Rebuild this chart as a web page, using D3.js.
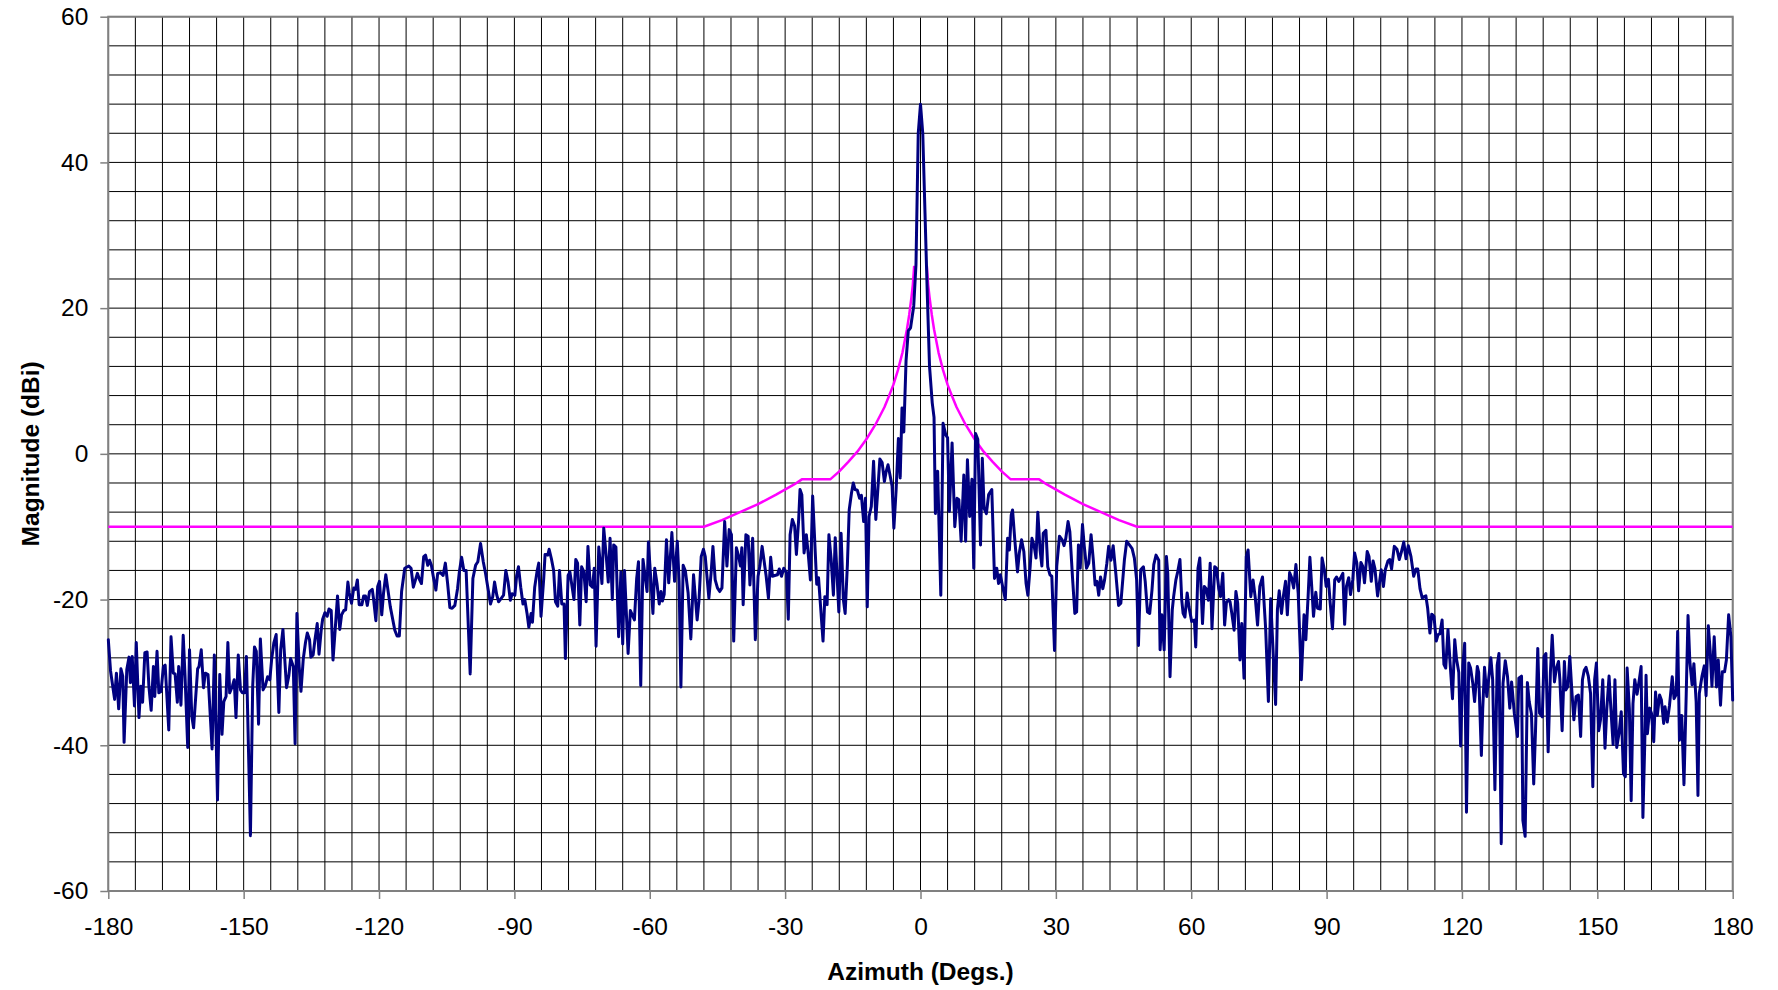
<!DOCTYPE html>
<html>
<head>
<meta charset="utf-8">
<script src="https://cdn.jsdelivr.net/npm/d3@7"></script>
<style>
  html, body { margin: 0; padding: 0; background: #ffffff; }
  svg { display: block; }
  text { font-family: "Liberation Sans", Arial, Helvetica, sans-serif; fill: #000; }
</style>
</head>
<body>
<svg id="chart" width="1778" height="990"></svg>
<script>
// ---------------- data ----------------
const azimuthTicks = [-180, -150, -120, -90, -60, -30, 0, 30, 60, 90, 120, 150, 180];
const magnitudeTicks = [-60, -40, -20, 0, 20, 40, 60];
const xTitle = "Azimuth (Degs.)";
const yTitle = "Magnitude (dBi)";

// measured azimuth pattern: [azimuth (deg), magnitude (dBi)]
const measured = [
[-180.0,-25.5],[-179.5,-29.8],[-178.6,-33.7],[-178.2,-30.1],[-177.7,-35.0],[-177.2,-29.5],[-176.8,-30.5],[-176.5,-39.6],[-175.9,-29.6],[-175.4,-27.9],[-175.1,-31.4],[-174.7,-27.8],[-174.2,-34.6],[-173.8,-25.9],[-173.2,-36.2],[-172.8,-31.9],[-172.4,-34.1],[-171.9,-27.3],[-171.4,-27.2],[-171.0,-31.9],[-170.5,-35.2],[-170.0,-29.2],[-169.7,-33.3],[-169.2,-27.1],[-168.8,-32.8],[-168.3,-32.6],[-167.8,-29.2],[-167.4,-29.0],[-166.6,-37.9],[-166.1,-25.1],[-165.6,-30.1],[-165.2,-30.2],[-164.7,-34.1],[-164.4,-29.2],[-163.9,-34.5],[-163.4,-24.9],[-163.0,-30.4],[-162.4,-40.3],[-162.0,-26.9],[-161.5,-36.0],[-161.1,-37.6],[-160.2,-29.5],[-159.9,-29.2],[-159.4,-26.9],[-158.9,-32.1],[-158.5,-30.1],[-157.9,-30.3],[-157.0,-40.5],[-156.5,-27.6],[-155.8,-47.5],[-155.3,-30.3],[-154.8,-38.5],[-154.4,-34.0],[-153.9,-33.3],[-153.5,-25.9],[-153.1,-32.8],[-152.5,-31.9],[-152.1,-31.0],[-151.7,-36.2],[-151.2,-27.6],[-150.7,-32.4],[-150.3,-32.8],[-149.8,-32.8],[-149.4,-27.8],[-148.5,-52.4],[-148.0,-31.9],[-147.6,-26.5],[-147.2,-27.1],[-146.7,-37.1],[-146.3,-25.4],[-145.7,-32.4],[-145.2,-31.8],[-144.7,-30.6],[-144.2,-31.0],[-143.8,-28.2],[-143.3,-25.9],[-142.8,-24.8],[-142.2,-35.5],[-141.8,-26.9],[-141.3,-24.1],[-140.5,-32.1],[-140.0,-30.5],[-139.6,-28.1],[-139.0,-29.2],[-138.6,-39.8],[-138.2,-21.9],[-137.7,-29.2],[-137.3,-32.6],[-136.8,-28.2],[-136.3,-25.9],[-135.9,-24.6],[-135.4,-25.5],[-135.1,-27.9],[-134.6,-27.6],[-134.2,-25.5],[-133.7,-23.3],[-133.3,-27.5],[-132.8,-24.1],[-132.5,-22.7],[-132.0,-21.8],[-131.5,-22.3],[-131.1,-21.3],[-130.6,-21.5],[-130.2,-28.3],[-129.7,-24.0],[-129.2,-19.5],[-128.7,-24.1],[-128.3,-22.1],[-127.8,-21.5],[-127.4,-21.4],[-126.9,-17.6],[-126.6,-19.1],[-126.1,-20.5],[-125.6,-18.4],[-125.2,-18.6],[-124.8,-17.3],[-124.4,-20.7],[-123.8,-20.7],[-123.4,-19.5],[-123.0,-19.5],[-122.6,-20.8],[-122.1,-18.9],[-121.5,-18.6],[-121.2,-20.0],[-120.7,-22.9],[-120.3,-18.2],[-119.9,-17.5],[-119.4,-22.1],[-119.0,-19.1],[-118.5,-16.6],
[-117.5,-21.0],[-116.5,-24.2],[-116.0,-25.0],[-115.5,-25.0],[-115.0,-18.9],[-114.3,-15.7],[-113.4,-15.4],[-112.9,-15.7],[-112.4,-18.3],[-111.5,-16.4],[-111.0,-17.3],[-110.6,-17.8],[-110.1,-14.1],[-109.7,-13.9],[-109.2,-15.3],[-108.8,-14.6],[-108.4,-15.3],[-107.9,-17.1],[-107.4,-18.7],[-107.0,-16.4],[-106.4,-16.3],[-105.8,-16.7],[-105.3,-15.0],[-104.8,-17.8],[-104.3,-21.1],[-103.8,-21.2],[-103.2,-20.8],[-102.6,-18.5],[-102.2,-16.2],[-101.7,-14.2],[-101.2,-16.0],[-100.7,-16.0],[-99.8,-30.2],[-99.2,-17.1],[-98.6,-15.3],[-98.1,-14.8],[-97.5,-12.3],[-96.9,-14.8],[-96.4,-16.4],[-95.8,-18.7],[-95.3,-20.6],[-94.8,-19.6],[-94.4,-17.6],[-93.9,-19.4],[-93.5,-20.3],[-93.0,-19.9],[-92.4,-19.4],[-91.9,-16.0],[-91.4,-17.6],[-90.9,-20.1],[-90.5,-19.2],[-89.9,-19.4],[-89.5,-16.7],[-89.1,-15.5],[-88.6,-18.3],[-88.1,-20.6],[-87.7,-20.0],[-87.2,-21.9],[-86.8,-23.8],[-86.3,-21.9],[-86.0,-23.1],[-85.5,-18.3],[-85.0,-16.2],[-84.6,-15.0],[-84.1,-22.3],[-83.5,-17.1],[-83.2,-13.8],[-82.6,-13.9],[-82.3,-13.1],[-81.8,-14.4],[-81.3,-16.0],[-80.9,-20.3],[-80.4,-20.9],[-80.0,-16.0],[-79.5,-20.6],[-79.0,-20.6],[-78.7,-28.1],[-78.1,-16.7],[-77.7,-16.2],[-77.2,-18.3],[-76.8,-20.0],[-76.4,-14.5],[-76.0,-15.0],[-75.5,-23.5],[-75.1,-15.5],[-74.6,-16.2],[-74.1,-20.3],[-73.7,-12.7],[-73.2,-18.0],[-72.7,-18.3],[-72.3,-15.7],[-71.9,-26.4],[-71.3,-12.8],[-70.9,-15.5],[-70.6,-17.8],[-70.2,-10.2],[-69.6,-14.4],[-69.2,-17.6],[-68.8,-11.6],[-68.3,-20.0],[-68.0,-12.5],[-67.5,-12.8],[-66.9,-25.1],[-66.4,-16.2],[-66.0,-26.1],[-65.6,-16.0],[-64.8,-27.4],[-64.3,-21.5],[-63.8,-22.2],[-63.4,-22.8],[-62.9,-17.1],[-62.5,-14.8],[-62.0,-31.8],[-61.5,-14.5],[-61.1,-16.5],[-60.6,-18.9],[-60.3,-12.1],[-59.8,-16.9],[-59.3,-21.9],[-58.9,-15.7],[-58.4,-17.8],[-57.9,-20.6],
[-57.5,-18.9],[-57.2,-20.2],[-56.8,-19.3],[-56.3,-11.8],[-55.8,-17.7],[-55.1,-10.8],[-54.5,-17.5],[-53.9,-12.0],[-53.5,-17.5],[-53.1,-32.0],[-52.6,-15.3],[-52.1,-16.1],[-51.5,-19.1],[-50.9,-25.4],[-50.3,-16.6],[-49.5,-22.8],[-49.1,-20.2],[-48.6,-14.1],[-48.1,-13.1],[-47.7,-14.1],[-46.9,-19.8],[-46.4,-16.3],[-46.0,-12.7],[-45.5,-17.3],[-45.0,-18.4],[-44.5,-18.9],[-44.0,-18.4],[-43.4,-9.3],[-42.9,-15.4],[-42.4,-10.4],[-41.9,-11.1],[-41.4,-25.7],[-40.8,-12.9],[-40.3,-14.1],[-39.9,-15.4],[-39.6,-12.9],[-39.3,-20.7],[-38.7,-11.1],[-38.2,-11.3],[-37.8,-18.0],[-37.2,-11.6],[-36.6,-25.5],[-36.0,-16.8],[-35.6,-15.4],[-35.1,-12.7],[-34.2,-16.8],[-33.7,-19.8],[-33.2,-14.2],[-32.8,-16.8],[-32.3,-16.7],[-31.7,-16.6],[-31.3,-15.8],[-30.8,-16.8],[-30.3,-15.7],[-29.7,-16.3],[-29.3,-22.7],[-28.9,-11.1],[-28.4,-9.0],[-27.9,-9.9],[-27.5,-13.8],[-27.0,-9.0],[-26.7,-4.9],[-26.3,-5.6],[-25.8,-13.6],[-25.3,-11.1],[-24.9,-13.6],[-24.4,-17.3],[-23.9,-5.8],[-23.0,-17.9],[-22.6,-17.0],[-21.6,-25.7],[-21.2,-19.6],[-20.7,-20.7],[-20.3,-11.1],[-19.8,-14.5],[-19.3,-19.4],[-18.9,-11.5],[-18.1,-21.7],[-17.6,-10.9],[-17.1,-20.0],[-16.7,-21.9],[-16.2,-15.2],[-15.8,-7.7],[-15.3,-5.4],[-14.9,-4.0],[-14.5,-4.9],[-14.0,-5.0],[-13.5,-6.1],[-13.1,-5.7],[-12.6,-9.3],[-12.2,-6.1],[-11.8,-21.0],[-11.4,-8.6],[-10.9,-7.2],[-10.4,-1.0],[-9.9,-9.0],[-9.4,-4.4],[-9.0,-0.7],[-8.5,-1.2],[-8.0,-3.8],[-7.6,-2.4],[-7.2,-1.5],[-6.7,-3.1],[-6.3,-4.4],[-5.9,-10.2],[-5.4,-4.9],
[-4.9,2.1],[-4.5,-3.3],[-4.1,6.3],[-3.7,3.0],[-3.2,12.8],[-2.7,16.9],[-2.2,17.3],[-1.5,20.3],[-1.0,26.0],[-0.5,44.0],[0.0,48.0],[0.5,44.0],[1.0,33.0],[1.5,22.0],[2.0,12.0],[2.6,7.0],[3.0,5.0],[3.3,-8.2],[3.8,-2.4],[4.5,-19.4],[5.0,4.2],[5.6,2.6],[6.0,2.2],[6.4,-7.9],[7.0,1.5],[7.6,-10.0],[8.1,-6.1],[8.5,-6.3],[9.0,-12.0],[9.6,-2.9],[10.0,-12.0],[10.4,-0.8],[10.9,-8.6],[11.4,-3.5],[11.8,-15.7],[12.2,2.8],[12.7,2.0],[13.3,-12.5],[13.7,-0.6],[14.1,-7.5],[14.6,-8.2],[15.1,-5.6],
[15.8,-4.9],[16.4,-17.1],[16.9,-15.7],[17.3,-17.8],[17.7,-16.6],[18.2,-18.2],[18.8,-20.0],[19.3,-11.6],[19.7,-13.2],[20.1,-8.4],[20.4,-7.7],[20.9,-11.8],[21.5,-16.2],[21.9,-13.6],[22.4,-11.8],[22.9,-13.4],[23.4,-17.8],[23.8,-19.4],[24.3,-15.5],[24.7,-11.6],[25.2,-12.7],[25.6,-14.3],[26.0,-8.0],[26.5,-13.2],[26.9,-15.4],[27.2,-10.9],[27.8,-10.5],[28.2,-15.5],[28.7,-16.6],[29.1,-16.8],[29.7,-27.0],[30.2,-15.4],[30.8,-11.3],[31.4,-11.8],[31.8,-12.6],[32.2,-11.6],[32.7,-9.3],[33.1,-10.7],[33.7,-17.1],[34.2,-21.9],[34.6,-21.7],[35.0,-12.5],[35.4,-15.7],[35.9,-9.7],[36.3,-12.7],[36.8,-15.7],[37.3,-15.0],[37.8,-11.1],[38.3,-14.6],[38.7,-18.0],[39.1,-17.5],[39.5,-19.4],[39.9,-16.9],[40.4,-18.5],[40.8,-17.3],[41.3,-15.0],[41.7,-12.7],[42.2,-14.6],[42.7,-12.6],[43.3,-16.5],[43.9,-20.8],[44.4,-20.5],[45.2,-14.5],[45.7,-12.0],[46.3,-12.5],[46.9,-13.0],[47.4,-14.3],[47.9,-17.3],[48.3,-26.3],[48.8,-15.9],[49.4,-15.5],[49.8,-17.5],[50.3,-21.7],[50.8,-21.9],[51.3,-18.7],[51.7,-15.2],[52.2,-13.9],[52.8,-14.6],[53.1,-26.9],[53.5,-22.1],[54.0,-26.9],[54.5,-14.1],[54.8,-16.4],[55.3,-30.6],[55.8,-21.4],[56.1,-19.6],[56.6,-17.3],[57.0,-16.2],[57.5,-14.5],[57.9,-20.1],[58.2,-21.9],[58.6,-22.4],[59.1,-19.1],[59.5,-21.0],[60.1,-23.0],[60.7,-22.8],[61.0,-26.5],[61.5,-15.7],[61.9,-14.3],[62.5,-23.3],[62.9,-18.2],[63.3,-18.5],[63.8,-20.1],[64.2,-15.0],[64.6,-24.0],[65.2,-15.5],[65.6,-15.7],[66.1,-18.5],[66.5,-19.6],[67.0,-16.4],[67.4,-23.5],[67.8,-20.4],[68.3,-20.0],[68.6,-20.3],[69.0,-21.9],[69.5,-24.2],[69.9,-18.9],[70.3,-20.5],[70.8,-28.3],[71.2,-23.3],[71.7,-30.8],[72.2,-14.1],[72.6,-13.2],[73.2,-19.6],[73.7,-17.3],[74.2,-19.8],[74.7,-23.5],[75.2,-18.2],[75.8,-16.9],
[76.5,-24.1],[77.1,-34.0],[77.6,-19.9],[78.7,-34.4],[79.1,-21.4],[79.5,-18.8],[80.0,-21.9],[80.4,-19.6],[80.9,-17.5],[81.3,-22.1],[81.8,-16.3],[82.2,-16.9],[82.7,-18.4],[83.2,-15.2],[83.7,-19.1],[84.4,-31.0],[85.0,-22.1],[85.4,-25.5],[85.9,-19.6],[86.3,-14.2],[86.7,-18.2],[87.1,-22.3],[87.6,-19.0],[88.0,-21.2],[88.6,-21.3],[89.0,-14.3],[89.5,-15.9],[89.9,-18.2],[90.4,-17.2],[90.8,-20.5],[91.3,-24.0],[91.8,-17.3],[92.2,-16.9],[92.7,-17.5],[93.6,-16.4],[94.0,-23.4],[94.4,-18.2],[94.9,-17.0],[95.3,-19.3],[95.8,-17.3],[96.2,-13.6],[96.7,-15.0],[97.1,-18.8],[97.6,-14.9],[98.0,-15.4],[98.4,-17.7],[99.0,-13.4],[99.4,-14.1],[99.9,-17.5],[100.3,-14.7],[100.7,-15.7],[101.3,-19.5],[101.8,-17.3],[102.1,-15.9],[102.6,-18.2],[103.0,-15.9],[103.6,-14.7],[104.0,-14.5],[104.4,-15.8],[105.0,-12.7],[105.6,-13.1],[106.1,-14.5],[106.6,-13.4],[107.1,-12.1],[107.6,-14.4],[108.1,-12.6],[108.7,-14.1],[109.3,-16.8],[109.8,-15.8],[110.2,-15.8],[110.7,-18.5],[111.2,-19.8],[111.6,-19.6],[112.0,-19.5],[112.4,-21.2],[112.9,-24.6],[113.3,-22.0],[113.8,-22.3],[114.3,-25.7],[114.7,-24.8],[115.1,-24.7],[115.6,-22.8],[116.0,-28.9],[116.4,-29.4],[116.9,-24.1],[117.4,-29.0],[117.9,-33.6],[118.4,-25.5],[118.8,-28.2],[119.3,-30.0],[119.7,-40.1],[120.2,-29.0],[120.6,-26.0],[121.0,-49.2],[121.5,-28.7],[121.9,-29.4],[122.4,-31.5],[122.8,-34.0],[123.4,-29.2],[123.7,-30.0],[124.3,-41.4],[124.6,-35.0],[125.0,-29.3],[125.5,-33.3],[125.9,-31.0],[126.4,-28.0],[126.8,-31.0],[127.3,-46.1],
[127.8,-29.0],[128.2,-27.4],[128.7,-53.5],[129.1,-31.5],[129.6,-28.4],[130.1,-30.6],[130.6,-34.9],[131.0,-31.3],[131.6,-35.6],[132.3,-38.8],[132.6,-30.8],[133.2,-30.5],[133.5,-50.3],[134.0,-52.5],[134.5,-31.4],[134.9,-34.0],[135.4,-35.7],[135.9,-45.3],[136.3,-38.0],[136.8,-26.7],[137.2,-35.6],[137.8,-36.1],[138.2,-27.8],[138.6,-27.4],[139.1,-40.9],[139.6,-30.0],[140.0,-24.9],[140.5,-31.3],[140.9,-29.5],[141.4,-28.5],[141.7,-31.0],[142.2,-38.0],[142.7,-28.5],[143.0,-32.4],[143.5,-31.9],[143.9,-27.8],[144.4,-33.0],[144.8,-36.5],[145.3,-33.3],[145.8,-33.1],[146.3,-38.8],[146.7,-31.0],[147.1,-29.7],[147.5,-29.3],[148.0,-30.5],[148.5,-32.9],[149.0,-45.7],[149.4,-31.0],[149.8,-28.7],[150.3,-38.0],[150.7,-36.5],[151.2,-31.0],[151.7,-40.4],[152.1,-35.0],[152.6,-30.5],[153.0,-35.0],[153.5,-39.9],[153.9,-31.0],[154.3,-40.3],[154.8,-38.4],[155.3,-35.4],[155.8,-43.9],[156.2,-44.3],[156.6,-29.4],[157.1,-35.0],[157.5,-47.6],[157.9,-34.3],[158.3,-31.0],[158.8,-33.0],[159.3,-31.0],[159.7,-29.2],[160.1,-49.9],[160.5,-40.0],[160.8,-30.4],[161.1,-38.4],[161.6,-34.9],[162.0,-35.6],[162.5,-39.5],[162.9,-32.7],[163.3,-35.9],[163.8,-33.1],[164.2,-33.8],[164.7,-37.0],[165.0,-34.7],[165.5,-36.8],[166.0,-34.5],[166.6,-30.6],[167.0,-33.6],[167.5,-33.0],[167.8,-24.4],[168.2,-39.3],[168.7,-35.9],[169.2,-45.4],[169.7,-33.0],[170.1,-22.2],[170.5,-28.5],[171.0,-31.7],[171.4,-28.8],[171.9,-34.0],[172.3,-46.9],[172.6,-32.9],[173.2,-30.5],[173.7,-29.1],[174.1,-33.2],[174.6,-23.6],[175.0,-27.0],[175.4,-31.9],[175.9,-25.1],[176.4,-32.0],[176.8,-28.3],[177.3,-34.5],[177.7,-29.9],[178.2,-29.9],[178.6,-28.3],[179.1,-22.1],[179.6,-25.1],[180.0,-33.8]
];

// regulatory mask (magenta), left and right branches
const maskLeft = [
[-180,-10],[-48,-10],[-44,-9.1],[-40,-8.0],[-36,-6.9],[-32,-5.6],[-28,-4.2],[-26.3,-3.5],[-20,-3.5],[-18,-2.4],[-16,-1.1],[-14,0.3],[-12,2.0],[-10,4.0],[-8,6.4],[-7,7.9],[-6,9.5],[-5,11.5],[-4,13.9],[-3,17.1],[-2.5,19.1],[-2,21.5],[-1.7,23.2],[-1.4,25.8]
];
const maskRight = [
[1.4,25.8],[1.7,23.2],[2,21.5],[2.5,19.1],[3,17.1],[4,13.9],[5,11.5],[6,9.5],[7,7.9],[8,6.4],[10,4.0],[12,2.0],[14,0.3],[16,-1.1],[18,-2.4],[20,-3.5],[26.3,-3.5],[28,-4.2],[32,-5.6],[36,-6.9],[40,-8.0],[44,-9.1],[48,-10],[180,-10]
];

// ---------------- layout ----------------
const W = 1778, H = 990;
const margin = { left: 108.3, right: W - 1732.7, top: 16.7, bottom: H - 891 };
const pw = W - margin.left - margin.right;
const ph = H - margin.top - margin.bottom;

const x = d3.scaleLinear().domain([-180, 180]).range([0, pw]);
const y = d3.scaleLinear().domain([-60, 60]).range([ph, 0]);

const svg = d3.select("#chart");
const g = svg.append("g").attr("transform", `translate(${margin.left},${margin.top})`);

// grid
const gridX = d3.range(-180, 181, 6);
const gridY = d3.range(-60, 61, 4);
g.append("g").selectAll("line").data(gridX).join("line")
  .attr("x1", d => x(d)).attr("x2", d => x(d))
  .attr("y1", 0).attr("y2", ph)
  .attr("stroke", "#000").attr("stroke-width", 1);
g.append("g").selectAll("line").data(gridY).join("line")
  .attr("y1", d => y(d)).attr("y2", d => y(d))
  .attr("x1", 0).attr("x2", pw)
  .attr("stroke", "#000").attr("stroke-width", 1);

// axes
const fontSize = 24.5;
const yAxis = d3.axisLeft(y).tickValues(magnitudeTicks).tickSize(8).tickPadding(12).tickFormat(d3.format("d"));
const xAxis = d3.axisBottom(x).tickValues(azimuthTicks).tickSize(8).tickPadding(19).tickFormat(d3.format("d"));

const gy = g.append("g").call(yAxis);
const gx = g.append("g").attr("transform", `translate(0,${ph})`).call(xAxis);
[gx, gy].forEach(a => {
  a.select(".domain").remove();
  a.selectAll(".tick line").attr("stroke", "#808080").attr("stroke-width", 1.5);
  a.selectAll(".tick text")
    .style("font-family", '"Liberation Sans", Arial, sans-serif')
    .style("font-size", fontSize + "px")
    .attr("fill", "#000");
});
gx.selectAll(".tick text").text(d => String(d));
gy.selectAll(".tick text").text(d => String(d));

// plot border
g.append("rect")
  .attr("x", 0).attr("y", 0).attr("width", pw).attr("height", ph)
  .attr("fill", "none").attr("stroke", "#808080").attr("stroke-width", 2);

// clip
svg.append("defs").append("clipPath").attr("id", "plotClip")
  .append("rect").attr("x", -2).attr("y", -2).attr("width", pw + 4).attr("height", ph + 4);

const line = d3.line().x(d => x(d[0])).y(d => y(d[1]));
const series = g.append("g").attr("clip-path", "url(#plotClip)");

[maskLeft, maskRight].forEach(m => {
  series.append("path").datum(m)
    .attr("d", line)
    .attr("fill", "none")
    .attr("stroke", "#ff00ff")
    .attr("stroke-width", 2.5)
    .attr("stroke-linejoin", "round");
});

series.append("path").datum(measured)
  .attr("d", line)
  .attr("fill", "none")
  .attr("stroke", "#000080")
  .attr("stroke-width", 3)
  .attr("stroke-linejoin", "round")
  .attr("stroke-linecap", "round");

// axis titles
svg.append("text")
  .attr("x", margin.left + pw / 2).attr("y", 979.5)
  .attr("text-anchor", "middle")
  .style("font-size", fontSize + "px").style("font-weight", "bold")
  .text(xTitle);

svg.append("text")
  .attr("transform", `translate(38.5,${margin.top + ph / 2}) rotate(-90)`)
  .attr("text-anchor", "middle")
  .style("font-size", fontSize + "px").style("font-weight", "bold")
  .text(yTitle);
</script>
</body>
</html>
